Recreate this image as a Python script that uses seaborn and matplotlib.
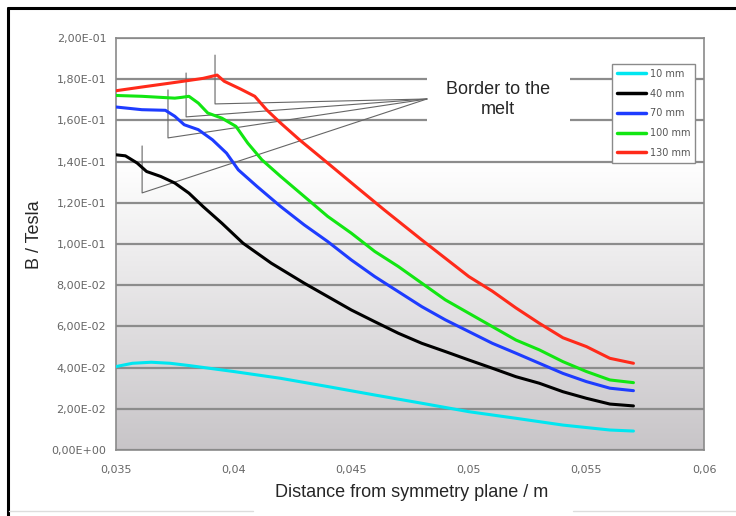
import numpy as np
import pandas as pd
import matplotlib
matplotlib.use("Agg")
import matplotlib.pyplot as plt
from matplotlib.lines import Line2D
from matplotlib.patches import Rectangle
from matplotlib.ticker import FuncFormatter, MultipleLocator
import seaborn as sns

sns.set_style("white")
plt.rcParams['font.family'] = ['Liberation Sans', 'DejaVu Sans']

# --- data ---
series = ['10 mm', '40 mm', '70 mm', '100 mm', '130 mm']

x_10 = [0.0350, 0.0357, 0.0365, 0.0373, 0.0381, 0.0400, 0.0420, 0.0440, 0.0460,
        0.0480, 0.0500, 0.0520, 0.0540, 0.0560, 0.0570]
b_10 = [0.0405, 0.0421, 0.0426, 0.0421, 0.0410, 0.0381, 0.0348, 0.0308, 0.0267,
        0.0227, 0.0186, 0.0154, 0.0121, 0.0097, 0.0092]

x_40 = [0.0350, 0.0354, 0.0359, 0.0363, 0.0369, 0.0375, 0.0381, 0.0387, 0.0395,
        0.0404, 0.0416, 0.0430, 0.0440, 0.0450, 0.0460, 0.0470, 0.0480, 0.0490,
        0.0500, 0.0510, 0.0520, 0.0530, 0.0540, 0.0550, 0.0560, 0.0570]
b_40 = [0.1433, 0.1428, 0.1393, 0.1352, 0.1328, 0.1296, 0.1247, 0.1182, 0.1101,
        0.1004, 0.0907, 0.0810, 0.0745, 0.0680, 0.0623, 0.0567, 0.0518, 0.0478,
        0.0437, 0.0397, 0.0356, 0.0324, 0.0283, 0.0251, 0.0223, 0.0214]

x_70 = [0.0350, 0.0361, 0.0371, 0.0375, 0.0379, 0.0385, 0.0391, 0.0397, 0.0402,
        0.0410, 0.0420, 0.0430, 0.0440, 0.0450, 0.0460, 0.0470, 0.0480, 0.0490,
        0.0500, 0.0510, 0.0520, 0.0530, 0.0540, 0.0550, 0.0560, 0.0570]
b_70 = [0.1665, 0.1652, 0.1649, 0.1620, 0.1579, 0.1555, 0.1506, 0.1441, 0.1360,
        0.1279, 0.1182, 0.1093, 0.1012, 0.0923, 0.0842, 0.0769, 0.0696, 0.0632,
        0.0575, 0.0518, 0.0470, 0.0421, 0.0372, 0.0332, 0.0300, 0.0288]

x_100 = [0.0350, 0.0361, 0.0375, 0.0378, 0.0381, 0.0385, 0.0389, 0.0395, 0.0401,
         0.0406, 0.0412, 0.0420, 0.0430, 0.0440, 0.0450, 0.0460, 0.0470, 0.0480,
         0.0490, 0.0500, 0.0510, 0.0520, 0.0530, 0.0540, 0.0550, 0.0560, 0.0570]
b_100 = [0.1721, 0.1717, 0.1708, 0.1712, 0.1717, 0.1684, 0.1636, 0.1611, 0.1571,
         0.1490, 0.1409, 0.1328, 0.1231, 0.1134, 0.1053, 0.0964, 0.0891, 0.0810,
         0.0729, 0.0664, 0.0599, 0.0534, 0.0486, 0.0429, 0.0381, 0.0340, 0.0327]

x_130 = [0.0350, 0.0361, 0.0373, 0.0381, 0.0387, 0.0393, 0.0396, 0.0403, 0.0409,
         0.0414, 0.0420, 0.0428, 0.0440, 0.0452, 0.0464, 0.0480, 0.0500, 0.0510,
         0.0520, 0.0530, 0.0540, 0.0550, 0.0560, 0.0570]
b_130 = [0.1744, 0.1762, 0.1781, 0.1794, 0.1804, 0.1820, 0.1790, 0.1752, 0.1717,
         0.1652, 0.1587, 0.1506, 0.1393, 0.1279, 0.1166, 0.1020, 0.0842, 0.0771,
         0.0690, 0.0615, 0.0545, 0.0502, 0.0445, 0.0421]

xs = {'10 mm': x_10, '40 mm': x_40, '70 mm': x_70, '100 mm': x_100, '130 mm': x_130}
bs = {'10 mm': b_10, '40 mm': b_40, '70 mm': b_70, '100 mm': b_100, '130 mm': b_130}

colors = {'10 mm': '#00e6f0', '40 mm': '#000000', '70 mm': '#1e3cff',
          '100 mm': '#12e612', '130 mm': '#ff2a1a'}

df = pd.concat([pd.DataFrame({'x': xs[s], 'B': bs[s], 'depth': s}) for s in series],
               ignore_index=True)

# --- figure ---
fig = plt.figure(figsize=(7.36, 5.16), dpi=100)
ax = fig.add_axes([116 / 736, 1 - 450 / 516, 588 / 736, 412 / 516])

# vertical grey gradient in the plot area
grad = np.linspace(0, 0.2, 200)
shade = np.clip(grad / 0.14, 0, 1)
img = np.zeros((200, 2, 3))
bottom_col = np.array([200, 197, 200]) / 255
for k in range(3):
    img[:, :, k] = (bottom_col[k] + (1 - bottom_col[k]) * shade)[:, None]
ax.imshow(img, extent=[0.035, 0.06, 0, 0.2], origin='lower', aspect='auto', zorder=0)

sns.lineplot(data=df, x='x', y='B', hue='depth', hue_order=series, palette=colors,
             estimator=None, sort=False, linewidth=2.2, legend=False, ax=ax, zorder=3)

ax.set_xlim(0.035, 0.06)
ax.set_ylim(0, 0.2)
ax.xaxis.set_major_locator(MultipleLocator(0.005))
ax.yaxis.set_major_locator(MultipleLocator(0.02))
ax.xaxis.set_major_formatter(FuncFormatter(lambda v, p: f"{v:.3f}".rstrip('0').replace('.', ',')))
ax.yaxis.set_major_formatter(FuncFormatter(lambda v, p: f"{v:.2E}".replace('.', ',')))

ax.grid(axis='y', color='#8c8c8c', linewidth=1.6)
ax.grid(axis='x', visible=False)
ax.set_axisbelow(True)
for sp in ax.spines.values():
    sp.set_color('#8a8a8a')
    sp.set_linewidth(1.2)

ax.tick_params(axis='both', direction='out', length=3, width=1, color='#8a8a8a',
               labelcolor='#666666', labelsize=8)
ax.tick_params(axis='x', pad=8)
ax.tick_params(axis='y', pad=4)
for lab in ax.get_xticklabels() + ax.get_yticklabels():
    lab.set_family('DejaVu Sans')

ax.set_xlabel('Distance from symmetry plane / m', fontsize=13, va='center')
ax.set_ylabel('B / Tesla', fontsize=13, va='center')
ax.xaxis.set_label_coords(0.502, -0.104)
ax.yaxis.set_label_coords(-0.138, 0.522)

# callout "Border to the melt"
hub = (0.04822, 0.1704)
brackets = {'40 mm': (0.03611, 0.1476, 0.1248),
            '70 mm': (0.03721, 0.1748, 0.1515),
            '100 mm': (0.03798, 0.1830, 0.1617),
            '130 mm': (0.03921, 0.1917, 0.1680)}
for s, (bx, top, bot) in brackets.items():
    ax.plot([bx, bx, hub[0]], [top, bot, hub[1]], color='#666666', lw=0.8, zorder=2.6)

ax.add_patch(Rectangle((0.04822, 0.1529), 0.0061, 0.0316, facecolor='white',
                       edgecolor='none', zorder=2.5))
ax.text(0.05124, 0.1700, 'Border to the\nmelt', ha='center', va='center',
        fontsize=13, linespacing=1.25, zorder=4)

# legend
handles = [Line2D([0], [0], color=colors[s], lw=2.5) for s in series]
leg = ax.legend(handles, series, loc='upper right', bbox_to_anchor=(0.985, 0.937),
                borderaxespad=0, fontsize=7, frameon=True, fancybox=False,
                handlelength=3.0, handletextpad=0.4, labelspacing=1.0,
                borderpad=0.5, framealpha=1)
leg.get_frame().set_edgecolor('#8a8a8a')
leg.get_frame().set_linewidth(1)
for t in leg.get_texts():
    t.set_color('#555555')
    t.set_family('DejaVu Sans')
leg.set_zorder(5)

# outer frame of the original picture
fig.add_artist(Line2D([8 / 736, 1], [1 - 8 / 516, 1 - 8 / 516], color='black', lw=2.2))
fig.add_artist(Line2D([8 / 736, 8 / 736], [0, 1 - 8 / 516], color='black', lw=2.2))
fig.add_artist(Line2D([9 / 736, 253 / 736], [5 / 516, 5 / 516], color='#dddddd', lw=1))
fig.add_artist(Line2D([573 / 736, 1], [5 / 516, 5 / 516], color='#dddddd', lw=1))

fig.savefig('out.png', dpi=100)
